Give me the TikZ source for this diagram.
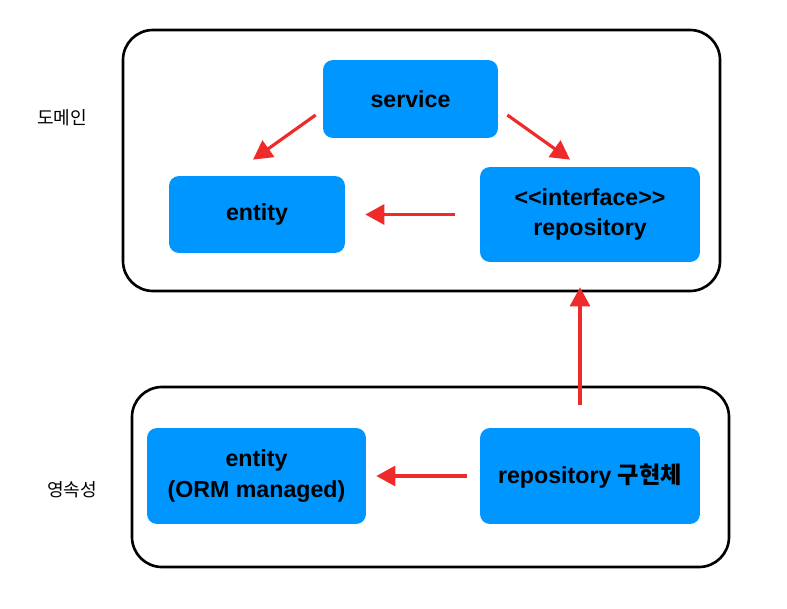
\documentclass[tikz,border=0pt]{standalone}
\usepackage{fontspec}
\setmainfont{Liberation Sans}
\newfontfamily\kr{Noto Sans CJK KR}
\usepackage{tikz}
\usetikzlibrary{arrows.meta}
\usetikzlibrary{positioning}
\definecolor{boxblue}{RGB}{0,150,255}
\definecolor{arrred}{RGB}{238,42,42}
\tikzstyle{every node}+=[inner sep=0pt]
\tikzstyle{comp}=[fill=boxblue, rounded corners=0.2cm, align=center, font=\fontsize{13.2}{17.5}\selectfont\bfseries]
\tikzstyle{layer}=[draw=black, line width=1.5pt, rounded corners=0.6cm]
\tikzstyle{dep}=[draw=arrred, line width=1.8pt, -{Triangle[length=0.38cm,width=0.4cm]}]
\tikzstyle{side}=[font=\kr\fontsize{10.3}{12}\selectfont]

\begin{document}
\begin{tikzpicture}[x=0.02cm,y=-0.02cm]
        \useasboundingbox (0,0) rectangle (787,608);
        % layers
        \draw [layer] (123,30) rectangle (720,291);
        \draw [layer] (132,387) rectangle (729,567);
        \node [side] (domain) at (62,118) {도메인};
        \node [side] (persist) at (72,490) {영속성};
        % domain layer
        \node [comp, minimum width=3.5cm, minimum height=1.56cm] (service) at (410.5,99) {service};
        \node [comp, minimum width=3.52cm, minimum height=1.54cm] (entity) at (257,214.5) {entity};
        \node [comp, minimum width=4.4cm, minimum height=1.9cm] (iface) at (590,214.5) {{<}{<}interface{>}{>}\\repository};
        % persistence layer
        \node [comp, minimum width=4.38cm, minimum height=1.92cm] (ormentity) at (256.5,476) {entity\\(ORM managed)};
        \node [comp, minimum width=4.4cm, minimum height=1.92cm] (impl) at (590,476) {repository {\kr 구현체}};
        % dependencies
        \draw [dep] ([shift={(-7,16)}]service.west) -- ([shift={(-4,-16)}]entity.north);
        \draw [dep] ([shift={(9,16)}]service.east) -- ([shift={(-20,-7)}]iface.north);
        \draw [dep, shorten <=0.5cm, shorten >=0.4cm] (iface.west) -- (entity.east);
        \draw [dep, shorten <=0.46cm, shorten >=0.5cm] ([xshift=-0.2cm]impl.north) -- ([xshift=-0.2cm]iface.south);
        \draw [dep, shorten <=0.26cm, shorten >=0.2cm] (impl.west) -- (ormentity.east);
\end{tikzpicture}
\end{document}
